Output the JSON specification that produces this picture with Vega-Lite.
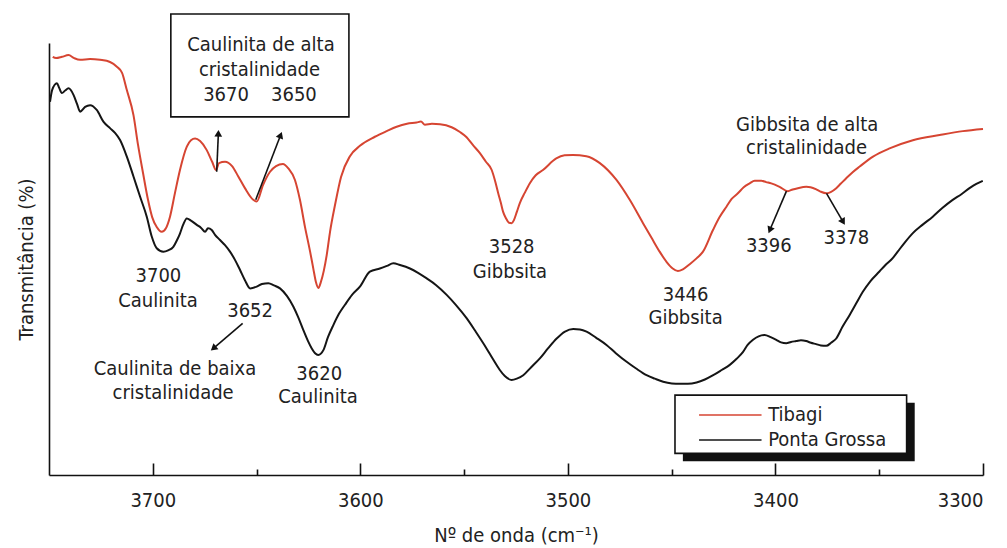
{
  "$schema": "https://vega.github.io/schema/vega-lite/v6.json",
  "width": 934,
  "height": 432,
  "autosize": "none",
  "padding": {"left": 49, "top": 43, "right": 24, "bottom": 73},
  "background": "white",
  "config": {
    "font": "Liberation Sans Narrow, DejaVu Sans Condensed, Liberation Sans, sans-serif",
    "view": {"stroke": null},
    "axis": {"labelColor": "#222", "titleColor": "#222", "titleFontWeight": "normal", "domainColor": "#111", "domainWidth": 1.6, "tickColor": "#111", "tickWidth": 1.6, "grid": false}
  },
  "datasets": {
    "spectra": [
      {"sample": "Tibagi", "wavenumber": 3748.2, "transmittance": 96.8},
      {"sample": "Tibagi", "wavenumber": 3746.6, "transmittance": 96.5},
      {"sample": "Tibagi", "wavenumber": 3743.7, "transmittance": 96.8},
      {"sample": "Tibagi", "wavenumber": 3740.6, "transmittance": 97.2},
      {"sample": "Tibagi", "wavenumber": 3737.9, "transmittance": 96.5},
      {"sample": "Tibagi", "wavenumber": 3735.0, "transmittance": 96.1},
      {"sample": "Tibagi", "wavenumber": 3730.2, "transmittance": 96.3},
      {"sample": "Tibagi", "wavenumber": 3725.4, "transmittance": 96.1},
      {"sample": "Tibagi", "wavenumber": 3720.6, "transmittance": 95.6},
      {"sample": "Tibagi", "wavenumber": 3717.3, "transmittance": 94.5},
      {"sample": "Tibagi", "wavenumber": 3714.8, "transmittance": 93.1},
      {"sample": "Tibagi", "wavenumber": 3712.5, "transmittance": 89.1},
      {"sample": "Tibagi", "wavenumber": 3709.3, "transmittance": 83.3},
      {"sample": "Tibagi", "wavenumber": 3707.1, "transmittance": 76.4},
      {"sample": "Tibagi", "wavenumber": 3704.7, "transmittance": 69.9},
      {"sample": "Tibagi", "wavenumber": 3702.3, "transmittance": 63.7},
      {"sample": "Tibagi", "wavenumber": 3700.3, "transmittance": 59.7},
      {"sample": "Tibagi", "wavenumber": 3698.1, "transmittance": 57.4},
      {"sample": "Tibagi", "wavenumber": 3695.7, "transmittance": 56.3},
      {"sample": "Tibagi", "wavenumber": 3693.6, "transmittance": 57.2},
      {"sample": "Tibagi", "wavenumber": 3691.7, "transmittance": 59.8},
      {"sample": "Tibagi", "wavenumber": 3689.3, "transmittance": 65.3},
      {"sample": "Tibagi", "wavenumber": 3686.9, "transmittance": 70.6},
      {"sample": "Tibagi", "wavenumber": 3683.6, "transmittance": 76.0},
      {"sample": "Tibagi", "wavenumber": 3681.6, "transmittance": 77.5},
      {"sample": "Tibagi", "wavenumber": 3679.6, "transmittance": 77.9},
      {"sample": "Tibagi", "wavenumber": 3677.2, "transmittance": 77.3},
      {"sample": "Tibagi", "wavenumber": 3674.0, "transmittance": 75.2},
      {"sample": "Tibagi", "wavenumber": 3671.4, "transmittance": 72.5},
      {"sample": "Tibagi", "wavenumber": 3669.5, "transmittance": 70.6},
      {"sample": "Tibagi", "wavenumber": 3668.1, "transmittance": 72.2},
      {"sample": "Tibagi", "wavenumber": 3665.2, "transmittance": 72.5},
      {"sample": "Tibagi", "wavenumber": 3661.8, "transmittance": 71.5},
      {"sample": "Tibagi", "wavenumber": 3658.8, "transmittance": 69.1},
      {"sample": "Tibagi", "wavenumber": 3655.6, "transmittance": 66.4},
      {"sample": "Tibagi", "wavenumber": 3651.6, "transmittance": 63.7},
      {"sample": "Tibagi", "wavenumber": 3649.9, "transmittance": 63.3},
      {"sample": "Tibagi", "wavenumber": 3646.9, "transmittance": 67.1},
      {"sample": "Tibagi", "wavenumber": 3643.5, "transmittance": 70.2},
      {"sample": "Tibagi", "wavenumber": 3640.6, "transmittance": 71.5},
      {"sample": "Tibagi", "wavenumber": 3637.3, "transmittance": 72.0},
      {"sample": "Tibagi", "wavenumber": 3634.7, "transmittance": 71.0},
      {"sample": "Tibagi", "wavenumber": 3631.5, "transmittance": 68.3},
      {"sample": "Tibagi", "wavenumber": 3629.1, "transmittance": 63.7},
      {"sample": "Tibagi", "wavenumber": 3626.7, "transmittance": 57.5},
      {"sample": "Tibagi", "wavenumber": 3624.2, "transmittance": 51.7},
      {"sample": "Tibagi", "wavenumber": 3622.7, "transmittance": 47.9},
      {"sample": "Tibagi", "wavenumber": 3621.4, "transmittance": 44.7},
      {"sample": "Tibagi", "wavenumber": 3620.2, "transmittance": 43.3},
      {"sample": "Tibagi", "wavenumber": 3619.0, "transmittance": 44.7},
      {"sample": "Tibagi", "wavenumber": 3616.2, "transmittance": 50.9},
      {"sample": "Tibagi", "wavenumber": 3614.6, "transmittance": 56.3},
      {"sample": "Tibagi", "wavenumber": 3612.2, "transmittance": 62.5},
      {"sample": "Tibagi", "wavenumber": 3609.3, "transmittance": 69.0},
      {"sample": "Tibagi", "wavenumber": 3605.0, "transmittance": 73.8},
      {"sample": "Tibagi", "wavenumber": 3600.2, "transmittance": 76.2},
      {"sample": "Tibagi", "wavenumber": 3593.0, "transmittance": 78.3},
      {"sample": "Tibagi", "wavenumber": 3587.3, "transmittance": 79.6},
      {"sample": "Tibagi", "wavenumber": 3582.5, "transmittance": 80.6},
      {"sample": "Tibagi", "wavenumber": 3577.5, "transmittance": 81.3},
      {"sample": "Tibagi", "wavenumber": 3572.9, "transmittance": 81.6},
      {"sample": "Tibagi", "wavenumber": 3570.8, "transmittance": 81.8},
      {"sample": "Tibagi", "wavenumber": 3568.9, "transmittance": 81.1},
      {"sample": "Tibagi", "wavenumber": 3565.5, "transmittance": 81.3},
      {"sample": "Tibagi", "wavenumber": 3561.6, "transmittance": 81.2},
      {"sample": "Tibagi", "wavenumber": 3556.0, "transmittance": 80.5},
      {"sample": "Tibagi", "wavenumber": 3552.0, "transmittance": 79.4},
      {"sample": "Tibagi", "wavenumber": 3548.8, "transmittance": 78.2},
      {"sample": "Tibagi", "wavenumber": 3545.8, "transmittance": 76.4},
      {"sample": "Tibagi", "wavenumber": 3542.4, "transmittance": 74.5},
      {"sample": "Tibagi", "wavenumber": 3539.5, "transmittance": 72.5},
      {"sample": "Tibagi", "wavenumber": 3536.7, "transmittance": 70.6},
      {"sample": "Tibagi", "wavenumber": 3535.2, "transmittance": 68.3},
      {"sample": "Tibagi", "wavenumber": 3533.6, "transmittance": 65.3},
      {"sample": "Tibagi", "wavenumber": 3532.3, "transmittance": 63.0},
      {"sample": "Tibagi", "wavenumber": 3531.2, "transmittance": 60.9},
      {"sample": "Tibagi", "wavenumber": 3529.9, "transmittance": 59.5},
      {"sample": "Tibagi", "wavenumber": 3528.4, "transmittance": 58.4},
      {"sample": "Tibagi", "wavenumber": 3527.1, "transmittance": 58.3},
      {"sample": "Tibagi", "wavenumber": 3526.0, "transmittance": 59.0},
      {"sample": "Tibagi", "wavenumber": 3524.6, "transmittance": 60.9},
      {"sample": "Tibagi", "wavenumber": 3523.2, "transmittance": 62.9},
      {"sample": "Tibagi", "wavenumber": 3520.8, "transmittance": 65.3},
      {"sample": "Tibagi", "wavenumber": 3518.4, "transmittance": 67.5},
      {"sample": "Tibagi", "wavenumber": 3515.5, "transmittance": 69.4},
      {"sample": "Tibagi", "wavenumber": 3512.0, "transmittance": 70.6},
      {"sample": "Tibagi", "wavenumber": 3505.6, "transmittance": 73.3},
      {"sample": "Tibagi", "wavenumber": 3501.6, "transmittance": 74.0},
      {"sample": "Tibagi", "wavenumber": 3497.6, "transmittance": 74.1},
      {"sample": "Tibagi", "wavenumber": 3491.1, "transmittance": 73.8},
      {"sample": "Tibagi", "wavenumber": 3484.6, "transmittance": 72.2},
      {"sample": "Tibagi", "wavenumber": 3476.6, "transmittance": 68.3},
      {"sample": "Tibagi", "wavenumber": 3470.2, "transmittance": 63.7},
      {"sample": "Tibagi", "wavenumber": 3463.8, "transmittance": 58.3},
      {"sample": "Tibagi", "wavenumber": 3459.7, "transmittance": 54.9},
      {"sample": "Tibagi", "wavenumber": 3455.8, "transmittance": 51.7},
      {"sample": "Tibagi", "wavenumber": 3452.4, "transmittance": 49.3},
      {"sample": "Tibagi", "wavenumber": 3449.5, "transmittance": 47.8},
      {"sample": "Tibagi", "wavenumber": 3447.0, "transmittance": 47.2},
      {"sample": "Tibagi", "wavenumber": 3444.6, "transmittance": 47.6},
      {"sample": "Tibagi", "wavenumber": 3441.3, "transmittance": 48.8},
      {"sample": "Tibagi", "wavenumber": 3437.9, "transmittance": 50.2},
      {"sample": "Tibagi", "wavenumber": 3434.9, "transmittance": 51.7},
      {"sample": "Tibagi", "wavenumber": 3430.1, "transmittance": 56.7},
      {"sample": "Tibagi", "wavenumber": 3426.9, "transmittance": 59.7},
      {"sample": "Tibagi", "wavenumber": 3423.6, "transmittance": 62.1},
      {"sample": "Tibagi", "wavenumber": 3421.1, "transmittance": 63.9},
      {"sample": "Tibagi", "wavenumber": 3418.1, "transmittance": 65.2},
      {"sample": "Tibagi", "wavenumber": 3415.3, "transmittance": 66.6},
      {"sample": "Tibagi", "wavenumber": 3412.4, "transmittance": 67.5},
      {"sample": "Tibagi", "wavenumber": 3410.0, "transmittance": 68.1},
      {"sample": "Tibagi", "wavenumber": 3406.8, "transmittance": 68.1},
      {"sample": "Tibagi", "wavenumber": 3404.5, "transmittance": 67.8},
      {"sample": "Tibagi", "wavenumber": 3402.0, "transmittance": 67.5},
      {"sample": "Tibagi", "wavenumber": 3398.0, "transmittance": 66.7},
      {"sample": "Tibagi", "wavenumber": 3394.0, "transmittance": 65.7},
      {"sample": "Tibagi", "wavenumber": 3391.7, "transmittance": 66.1},
      {"sample": "Tibagi", "wavenumber": 3389.2, "transmittance": 66.4},
      {"sample": "Tibagi", "wavenumber": 3385.1, "transmittance": 66.7},
      {"sample": "Tibagi", "wavenumber": 3383.1, "transmittance": 66.6},
      {"sample": "Tibagi", "wavenumber": 3380.3, "transmittance": 66.1},
      {"sample": "Tibagi", "wavenumber": 3378.3, "transmittance": 65.6},
      {"sample": "Tibagi", "wavenumber": 3375.5, "transmittance": 65.2},
      {"sample": "Tibagi", "wavenumber": 3373.4, "transmittance": 65.5},
      {"sample": "Tibagi", "wavenumber": 3370.7, "transmittance": 66.4},
      {"sample": "Tibagi", "wavenumber": 3368.6, "transmittance": 67.4},
      {"sample": "Tibagi", "wavenumber": 3365.9, "transmittance": 68.7},
      {"sample": "Tibagi", "wavenumber": 3362.8, "transmittance": 70.1},
      {"sample": "Tibagi", "wavenumber": 3359.4, "transmittance": 71.4},
      {"sample": "Tibagi", "wavenumber": 3353.0, "transmittance": 73.7},
      {"sample": "Tibagi", "wavenumber": 3345.0, "transmittance": 75.6},
      {"sample": "Tibagi", "wavenumber": 3333.8, "transmittance": 77.5},
      {"sample": "Tibagi", "wavenumber": 3320.9, "transmittance": 78.7},
      {"sample": "Tibagi", "wavenumber": 3309.7, "transmittance": 79.6},
      {"sample": "Tibagi", "wavenumber": 3300.0, "transmittance": 80.1},
      {"sample": "Ponta Grossa", "wavenumber": 3749.5, "transmittance": 86.4},
      {"sample": "Ponta Grossa", "wavenumber": 3748.5, "transmittance": 89.1},
      {"sample": "Ponta Grossa", "wavenumber": 3746.2, "transmittance": 90.7},
      {"sample": "Ponta Grossa", "wavenumber": 3745.1, "transmittance": 89.6},
      {"sample": "Ponta Grossa", "wavenumber": 3743.8, "transmittance": 88.4},
      {"sample": "Ponta Grossa", "wavenumber": 3742.2, "transmittance": 89.0},
      {"sample": "Ponta Grossa", "wavenumber": 3740.6, "transmittance": 89.5},
      {"sample": "Ponta Grossa", "wavenumber": 3738.2, "transmittance": 88.0},
      {"sample": "Ponta Grossa", "wavenumber": 3736.5, "transmittance": 85.9},
      {"sample": "Ponta Grossa", "wavenumber": 3735.0, "transmittance": 84.1},
      {"sample": "Ponta Grossa", "wavenumber": 3732.6, "transmittance": 85.2},
      {"sample": "Ponta Grossa", "wavenumber": 3730.2, "transmittance": 85.6},
      {"sample": "Ponta Grossa", "wavenumber": 3727.0, "transmittance": 84.5},
      {"sample": "Ponta Grossa", "wavenumber": 3723.8, "transmittance": 81.8},
      {"sample": "Ponta Grossa", "wavenumber": 3720.6, "transmittance": 80.3},
      {"sample": "Ponta Grossa", "wavenumber": 3718.2, "transmittance": 79.2},
      {"sample": "Ponta Grossa", "wavenumber": 3715.7, "transmittance": 77.5},
      {"sample": "Ponta Grossa", "wavenumber": 3712.5, "transmittance": 73.7},
      {"sample": "Ponta Grossa", "wavenumber": 3709.3, "transmittance": 69.1},
      {"sample": "Ponta Grossa", "wavenumber": 3706.1, "transmittance": 64.4},
      {"sample": "Ponta Grossa", "wavenumber": 3702.9, "transmittance": 59.8},
      {"sample": "Ponta Grossa", "wavenumber": 3700.5, "transmittance": 55.2},
      {"sample": "Ponta Grossa", "wavenumber": 3698.1, "transmittance": 52.5},
      {"sample": "Ponta Grossa", "wavenumber": 3694.9, "transmittance": 51.7},
      {"sample": "Ponta Grossa", "wavenumber": 3692.6, "transmittance": 52.0},
      {"sample": "Ponta Grossa", "wavenumber": 3690.1, "transmittance": 52.8},
      {"sample": "Ponta Grossa", "wavenumber": 3688.3, "transmittance": 54.4},
      {"sample": "Ponta Grossa", "wavenumber": 3686.9, "transmittance": 55.9},
      {"sample": "Ponta Grossa", "wavenumber": 3685.4, "transmittance": 57.9},
      {"sample": "Ponta Grossa", "wavenumber": 3683.6, "transmittance": 59.4},
      {"sample": "Ponta Grossa", "wavenumber": 3681.6, "transmittance": 58.9},
      {"sample": "Ponta Grossa", "wavenumber": 3678.8, "transmittance": 57.9},
      {"sample": "Ponta Grossa", "wavenumber": 3676.7, "transmittance": 57.2},
      {"sample": "Ponta Grossa", "wavenumber": 3674.8, "transmittance": 56.3},
      {"sample": "Ponta Grossa", "wavenumber": 3673.4, "transmittance": 57.1},
      {"sample": "Ponta Grossa", "wavenumber": 3671.6, "transmittance": 56.7},
      {"sample": "Ponta Grossa", "wavenumber": 3670.0, "transmittance": 55.6},
      {"sample": "Ponta Grossa", "wavenumber": 3667.6, "transmittance": 54.4},
      {"sample": "Ponta Grossa", "wavenumber": 3665.2, "transmittance": 53.2},
      {"sample": "Ponta Grossa", "wavenumber": 3662.8, "transmittance": 51.7},
      {"sample": "Ponta Grossa", "wavenumber": 3660.4, "transmittance": 49.8},
      {"sample": "Ponta Grossa", "wavenumber": 3658.0, "transmittance": 47.5},
      {"sample": "Ponta Grossa", "wavenumber": 3655.6, "transmittance": 45.1},
      {"sample": "Ponta Grossa", "wavenumber": 3653.1, "transmittance": 43.2},
      {"sample": "Ponta Grossa", "wavenumber": 3649.9, "transmittance": 43.6},
      {"sample": "Ponta Grossa", "wavenumber": 3647.4, "transmittance": 44.2},
      {"sample": "Ponta Grossa", "wavenumber": 3644.3, "transmittance": 44.4},
      {"sample": "Ponta Grossa", "wavenumber": 3641.6, "transmittance": 43.9},
      {"sample": "Ponta Grossa", "wavenumber": 3638.7, "transmittance": 43.2},
      {"sample": "Ponta Grossa", "wavenumber": 3635.3, "transmittance": 41.4},
      {"sample": "Ponta Grossa", "wavenumber": 3632.3, "transmittance": 39.0},
      {"sample": "Ponta Grossa", "wavenumber": 3630.0, "transmittance": 36.6},
      {"sample": "Ponta Grossa", "wavenumber": 3627.5, "transmittance": 33.6},
      {"sample": "Ponta Grossa", "wavenumber": 3625.2, "transmittance": 31.0},
      {"sample": "Ponta Grossa", "wavenumber": 3623.4, "transmittance": 29.3},
      {"sample": "Ponta Grossa", "wavenumber": 3621.8, "transmittance": 28.2},
      {"sample": "Ponta Grossa", "wavenumber": 3620.3, "transmittance": 27.8},
      {"sample": "Ponta Grossa", "wavenumber": 3619.0, "transmittance": 28.1},
      {"sample": "Ponta Grossa", "wavenumber": 3617.8, "transmittance": 28.9},
      {"sample": "Ponta Grossa", "wavenumber": 3615.6, "transmittance": 31.9},
      {"sample": "Ponta Grossa", "wavenumber": 3613.0, "transmittance": 34.7},
      {"sample": "Ponta Grossa", "wavenumber": 3610.3, "transmittance": 37.3},
      {"sample": "Ponta Grossa", "wavenumber": 3607.4, "transmittance": 39.4},
      {"sample": "Ponta Grossa", "wavenumber": 3604.0, "transmittance": 41.7},
      {"sample": "Ponta Grossa", "wavenumber": 3600.2, "transmittance": 43.6},
      {"sample": "Ponta Grossa", "wavenumber": 3595.4, "transmittance": 47.1},
      {"sample": "Ponta Grossa", "wavenumber": 3590.6, "transmittance": 47.8},
      {"sample": "Ponta Grossa", "wavenumber": 3587.2, "transmittance": 48.4},
      {"sample": "Ponta Grossa", "wavenumber": 3584.1, "transmittance": 49.0},
      {"sample": "Ponta Grossa", "wavenumber": 3580.9, "transmittance": 48.6},
      {"sample": "Ponta Grossa", "wavenumber": 3576.1, "transmittance": 47.8},
      {"sample": "Ponta Grossa", "wavenumber": 3572.2, "transmittance": 46.8},
      {"sample": "Ponta Grossa", "wavenumber": 3568.0, "transmittance": 45.5},
      {"sample": "Ponta Grossa", "wavenumber": 3563.6, "transmittance": 44.0},
      {"sample": "Ponta Grossa", "wavenumber": 3558.4, "transmittance": 41.7},
      {"sample": "Ponta Grossa", "wavenumber": 3554.0, "transmittance": 39.4},
      {"sample": "Ponta Grossa", "wavenumber": 3548.8, "transmittance": 36.3},
      {"sample": "Ponta Grossa", "wavenumber": 3544.3, "transmittance": 33.1},
      {"sample": "Ponta Grossa", "wavenumber": 3539.2, "transmittance": 29.3},
      {"sample": "Ponta Grossa", "wavenumber": 3536.2, "transmittance": 26.9},
      {"sample": "Ponta Grossa", "wavenumber": 3532.8, "transmittance": 24.3},
      {"sample": "Ponta Grossa", "wavenumber": 3530.4, "transmittance": 22.9},
      {"sample": "Ponta Grossa", "wavenumber": 3527.1, "transmittance": 22.0},
      {"sample": "Ponta Grossa", "wavenumber": 3524.6, "transmittance": 22.3},
      {"sample": "Ponta Grossa", "wavenumber": 3521.5, "transmittance": 23.1},
      {"sample": "Ponta Grossa", "wavenumber": 3517.8, "transmittance": 24.9},
      {"sample": "Ponta Grossa", "wavenumber": 3513.5, "transmittance": 27.0},
      {"sample": "Ponta Grossa", "wavenumber": 3509.6, "transmittance": 29.3},
      {"sample": "Ponta Grossa", "wavenumber": 3505.4, "transmittance": 31.6},
      {"sample": "Ponta Grossa", "wavenumber": 3501.4, "transmittance": 33.2},
      {"sample": "Ponta Grossa", "wavenumber": 3497.4, "transmittance": 33.8},
      {"sample": "Ponta Grossa", "wavenumber": 3494.2, "transmittance": 33.7},
      {"sample": "Ponta Grossa", "wavenumber": 3491.0, "transmittance": 33.2},
      {"sample": "Ponta Grossa", "wavenumber": 3486.5, "transmittance": 31.8},
      {"sample": "Ponta Grossa", "wavenumber": 3481.4, "transmittance": 30.1},
      {"sample": "Ponta Grossa", "wavenumber": 3476.9, "transmittance": 28.2},
      {"sample": "Ponta Grossa", "wavenumber": 3471.7, "transmittance": 26.2},
      {"sample": "Ponta Grossa", "wavenumber": 3467.3, "transmittance": 24.7},
      {"sample": "Ponta Grossa", "wavenumber": 3462.1, "transmittance": 23.1},
      {"sample": "Ponta Grossa", "wavenumber": 3458.1, "transmittance": 22.3},
      {"sample": "Ponta Grossa", "wavenumber": 3454.1, "transmittance": 21.6},
      {"sample": "Ponta Grossa", "wavenumber": 3449.9, "transmittance": 21.2},
      {"sample": "Ponta Grossa", "wavenumber": 3446.1, "transmittance": 21.1},
      {"sample": "Ponta Grossa", "wavenumber": 3442.2, "transmittance": 21.1},
      {"sample": "Ponta Grossa", "wavenumber": 3438.0, "transmittance": 21.4},
      {"sample": "Ponta Grossa", "wavenumber": 3434.0, "transmittance": 22.1},
      {"sample": "Ponta Grossa", "wavenumber": 3430.0, "transmittance": 23.1},
      {"sample": "Ponta Grossa", "wavenumber": 3425.9, "transmittance": 24.3},
      {"sample": "Ponta Grossa", "wavenumber": 3422.0, "transmittance": 25.5},
      {"sample": "Ponta Grossa", "wavenumber": 3418.7, "transmittance": 26.9},
      {"sample": "Ponta Grossa", "wavenumber": 3415.6, "transmittance": 28.5},
      {"sample": "Ponta Grossa", "wavenumber": 3413.4, "transmittance": 30.1},
      {"sample": "Ponta Grossa", "wavenumber": 3410.8, "transmittance": 31.3},
      {"sample": "Ponta Grossa", "wavenumber": 3408.1, "transmittance": 32.1},
      {"sample": "Ponta Grossa", "wavenumber": 3405.2, "transmittance": 32.4},
      {"sample": "Ponta Grossa", "wavenumber": 3402.3, "transmittance": 31.9},
      {"sample": "Ponta Grossa", "wavenumber": 3399.6, "transmittance": 31.3},
      {"sample": "Ponta Grossa", "wavenumber": 3397.3, "transmittance": 30.7},
      {"sample": "Ponta Grossa", "wavenumber": 3394.8, "transmittance": 30.5},
      {"sample": "Ponta Grossa", "wavenumber": 3392.5, "transmittance": 30.8},
      {"sample": "Ponta Grossa", "wavenumber": 3390.0, "transmittance": 31.0},
      {"sample": "Ponta Grossa", "wavenumber": 3387.7, "transmittance": 31.2},
      {"sample": "Ponta Grossa", "wavenumber": 3385.2, "transmittance": 31.0},
      {"sample": "Ponta Grossa", "wavenumber": 3382.9, "transmittance": 30.6},
      {"sample": "Ponta Grossa", "wavenumber": 3380.4, "transmittance": 30.3},
      {"sample": "Ponta Grossa", "wavenumber": 3378.1, "transmittance": 30.0},
      {"sample": "Ponta Grossa", "wavenumber": 3375.5, "transmittance": 29.9},
      {"sample": "Ponta Grossa", "wavenumber": 3373.2, "transmittance": 30.6},
      {"sample": "Ponta Grossa", "wavenumber": 3370.7, "transmittance": 31.6},
      {"sample": "Ponta Grossa", "wavenumber": 3367.7, "transmittance": 34.3},
      {"sample": "Ponta Grossa", "wavenumber": 3364.3, "transmittance": 37.0},
      {"sample": "Ponta Grossa", "wavenumber": 3361.0, "transmittance": 39.8},
      {"sample": "Ponta Grossa", "wavenumber": 3357.9, "transmittance": 42.4},
      {"sample": "Ponta Grossa", "wavenumber": 3354.2, "transmittance": 44.9},
      {"sample": "Ponta Grossa", "wavenumber": 3349.9, "transmittance": 47.1},
      {"sample": "Ponta Grossa", "wavenumber": 3347.0, "transmittance": 48.6},
      {"sample": "Ponta Grossa", "wavenumber": 3343.5, "transmittance": 50.2},
      {"sample": "Ponta Grossa", "wavenumber": 3341.1, "transmittance": 51.7},
      {"sample": "Ponta Grossa", "wavenumber": 3337.9, "transmittance": 53.7},
      {"sample": "Ponta Grossa", "wavenumber": 3333.8, "transmittance": 56.0},
      {"sample": "Ponta Grossa", "wavenumber": 3329.2, "transmittance": 57.9},
      {"sample": "Ponta Grossa", "wavenumber": 3324.2, "transmittance": 59.8},
      {"sample": "Ponta Grossa", "wavenumber": 3319.6, "transmittance": 61.8},
      {"sample": "Ponta Grossa", "wavenumber": 3314.6, "transmittance": 63.7},
      {"sample": "Ponta Grossa", "wavenumber": 3310.4, "transmittance": 65.0},
      {"sample": "Ponta Grossa", "wavenumber": 3306.5, "transmittance": 66.4},
      {"sample": "Ponta Grossa", "wavenumber": 3303.2, "transmittance": 67.4},
      {"sample": "Ponta Grossa", "wavenumber": 3300.1, "transmittance": 68.1}
    ],
    "notes": [
      {"text": "Caulinita de alta", "wavenumber": 3647.9, "transmittance": 99.5},
      {"text": "cristalinidade", "wavenumber": 3648.6, "transmittance": 93.75},
      {"text": "3670", "wavenumber": 3664.7, "transmittance": 88.0},
      {"text": "3650", "wavenumber": 3632.0, "transmittance": 88.0},
      {"text": "3700", "wavenumber": 3697.3, "transmittance": 46.1},
      {"text": "Caulinita", "wavenumber": 3697.5, "transmittance": 40.3},
      {"text": "3652", "wavenumber": 3653.1, "transmittance": 38.0},
      {"text": "Caulinita de baixa", "wavenumber": 3689.3, "transmittance": 24.5},
      {"text": "cristalinidade", "wavenumber": 3690.2, "transmittance": 19.0},
      {"text": "3620", "wavenumber": 3619.8, "transmittance": 23.4},
      {"text": "Caulinita", "wavenumber": 3620.4, "transmittance": 18.1},
      {"text": "3528", "wavenumber": 3527.1, "transmittance": 52.8},
      {"text": "Gibbsita", "wavenumber": 3527.9, "transmittance": 46.9},
      {"text": "3446", "wavenumber": 3443.3, "transmittance": 41.7},
      {"text": "Gibbsita", "wavenumber": 3443.3, "transmittance": 36.3},
      {"text": "Gibbsita de alta", "wavenumber": 3384.7, "transmittance": 81.0},
      {"text": "cristalinidade", "wavenumber": 3385.0, "transmittance": 75.6},
      {"text": "3396", "wavenumber": 3403.2, "transmittance": 52.9},
      {"text": "3378", "wavenumber": 3365.8, "transmittance": 54.8}
    ],
    "arrows": [
      {"peak": "3670", "wavenumber": 3669.2, "transmittance": 70.2, "wavenumber2": 3668.4, "transmittance2": 79.1},
      {"peak": "3650", "wavenumber": 3650.4, "transmittance": 63.7, "wavenumber2": 3638.4, "transmittance2": 78.7},
      {"peak": "3652", "wavenumber": 3656.7, "transmittance": 35.1, "wavenumber2": 3670.8, "transmittance2": 29.3},
      {"peak": "3396", "wavenumber": 3394.7, "transmittance": 65.7, "wavenumber2": 3402.7, "transmittance2": 56.7},
      {"peak": "3378", "wavenumber": 3375.4, "transmittance": 65.2, "wavenumber2": 3367.4, "transmittance2": 58.6}
    ],
    "frames": [
      {"wavenumber": 3691.3, "wavenumber2": 3605.5, "transmittance": 106.7, "transmittance2": 82.9},
      {"wavenumber": 3448.4, "wavenumber2": 3336.8, "transmittance": 18.5, "transmittance2": 5.0}
    ],
    "shadow": [
      {"wavenumber": 3444.6, "wavenumber2": 3332.9, "transmittance": 16.7, "transmittance2": 3.2}
    ],
    "key": [
      {"sample": "Tibagi", "wavenumber": 3436.8, "wavenumber2": 3406.7, "label_at": 3403.5, "transmittance": 13.9},
      {"sample": "Ponta Grossa", "wavenumber": 3436.8, "wavenumber2": 3406.7, "label_at": 3403.5, "transmittance": 8.1}
    ]
  },
  "layer": [
    {
      "data": {"name": "shadow"},
      "mark": {"type": "rect", "fill": "#111", "stroke": null},
      "encoding": {
        "x": {"field": "wavenumber", "type": "quantitative"},
        "x2": {"field": "wavenumber2"},
        "y": {"field": "transmittance", "type": "quantitative"},
        "y2": {"field": "transmittance2"}
      }
    },
    {
      "data": {"name": "frames"},
      "mark": {"type": "rect", "fill": "white", "stroke": "#111", "strokeWidth": 1.6},
      "encoding": {
        "x": {"field": "wavenumber", "type": "quantitative"},
        "x2": {"field": "wavenumber2"},
        "y": {"field": "transmittance", "type": "quantitative"},
        "y2": {"field": "transmittance2"}
      }
    },
    {
      "data": {"name": "spectra"},
      "mark": {"type": "line", "strokeWidth": 2, "interpolate": "monotone"},
      "encoding": {
        "x": {
          "field": "wavenumber",
          "type": "quantitative",
          "scale": {"domain": [3300, 3750], "reverse": true, "nice": false, "zero": false},
          "axis": {
            "title": "Nº de onda (cm⁻¹)",
            "values": [3700, 3650, 3600, 3550, 3500, 3450, 3400, 3350, 3300],
            "format": "d",
            "labelExpr": "datum.value % 100 === 0 ? datum.label : ''",
            "tickSize": {"condition": {"test": "datum.value % 100 === 0", "value": -12}, "value": -6},
            "labelPadding": 27,
            "labelFontSize": 20,
            "titleFontSize": 20,
            "titlePadding": 15
          }
        },
        "y": {
          "field": "transmittance",
          "type": "quantitative",
          "scale": {"domain": [0, 100], "nice": false, "zero": false},
          "axis": {
            "title": "Transmitância (%)",
            "labels": false,
            "ticks": false,
            "titleFontSize": 20,
            "titlePadding": 13
          }
        },
        "color": {
          "field": "sample",
          "type": "nominal",
          "scale": {"domain": ["Tibagi", "Ponta Grossa"], "range": ["#d64532", "#151515"]},
          "legend": null
        }
      }
    },
    {
      "data": {"name": "arrows"},
      "mark": {"type": "rule", "color": "#111", "strokeWidth": 1.6},
      "encoding": {
        "x": {"field": "wavenumber", "type": "quantitative"},
        "y": {"field": "transmittance", "type": "quantitative"},
        "x2": {"field": "wavenumber2"},
        "y2": {"field": "transmittance2"}
      }
    },
    {
      "data": {"name": "arrows"},
      "transform": [{"filter": "datum.peak === '3670'"}],
      "mark": {"type": "point", "shape": "triangle-up", "filled": true, "color": "#111", "size": 60, "opacity": 1, "angle": 2},
      "encoding": {
        "x": {"field": "wavenumber2", "type": "quantitative"},
        "y": {"field": "transmittance2", "type": "quantitative"}
      }
    },
    {
      "data": {"name": "arrows"},
      "transform": [{"filter": "datum.peak === '3650'"}],
      "mark": {"type": "point", "shape": "triangle-up", "filled": true, "color": "#111", "size": 60, "opacity": 1, "angle": 21},
      "encoding": {
        "x": {"field": "wavenumber2", "type": "quantitative"},
        "y": {"field": "transmittance2", "type": "quantitative"}
      }
    },
    {
      "data": {"name": "arrows"},
      "transform": [{"filter": "datum.peak === '3652'"}],
      "mark": {"type": "point", "shape": "triangle-up", "filled": true, "color": "#111", "size": 60, "opacity": 1, "angle": 230},
      "encoding": {
        "x": {"field": "wavenumber2", "type": "quantitative"},
        "y": {"field": "transmittance2", "type": "quantitative"}
      }
    },
    {
      "data": {"name": "arrows"},
      "transform": [{"filter": "datum.peak === '3396'"}],
      "mark": {"type": "point", "shape": "triangle-up", "filled": true, "color": "#111", "size": 60, "opacity": 1, "angle": 203},
      "encoding": {
        "x": {"field": "wavenumber2", "type": "quantitative"},
        "y": {"field": "transmittance2", "type": "quantitative"}
      }
    },
    {
      "data": {"name": "arrows"},
      "transform": [{"filter": "datum.peak === '3378'"}],
      "mark": {"type": "point", "shape": "triangle-up", "filled": true, "color": "#111", "size": 60, "opacity": 1, "angle": 150},
      "encoding": {
        "x": {"field": "wavenumber2", "type": "quantitative"},
        "y": {"field": "transmittance2", "type": "quantitative"}
      }
    },
    {
      "data": {"name": "notes"},
      "mark": {"type": "text", "fontSize": 20, "color": "#222", "align": "center", "baseline": "middle"},
      "encoding": {
        "x": {"field": "wavenumber", "type": "quantitative"},
        "y": {"field": "transmittance", "type": "quantitative"},
        "text": {"field": "text"}
      }
    },
    {
      "data": {"name": "key"},
      "mark": {"type": "rule", "strokeWidth": 1.6},
      "encoding": {
        "x": {"field": "wavenumber", "type": "quantitative"},
        "x2": {"field": "wavenumber2"},
        "y": {"field": "transmittance", "type": "quantitative"},
        "color": {"field": "sample", "type": "nominal", "legend": null}
      }
    },
    {
      "data": {"name": "key"},
      "mark": {"type": "text", "fontSize": 20, "color": "#222", "align": "left", "baseline": "middle"},
      "encoding": {
        "x": {"field": "label_at", "type": "quantitative"},
        "y": {"field": "transmittance", "type": "quantitative"},
        "text": {"field": "sample"}
      }
    }
  ]
}
